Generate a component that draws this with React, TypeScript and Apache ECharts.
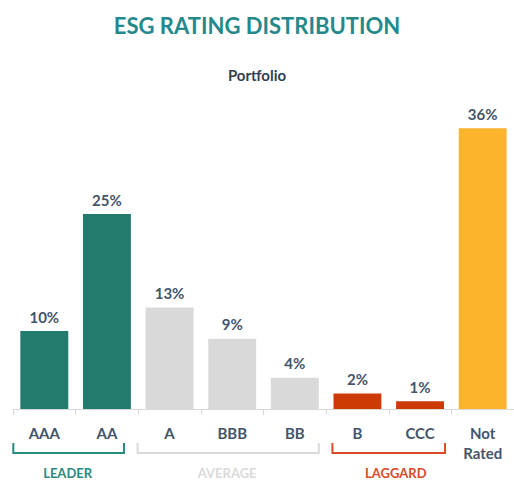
import React, { useEffect, useRef } from "react";
import * as echarts from "echarts";

const categories = ["AAA", "AA", "A", "BBB", "BB", "B", "CCC", "Not\nRated"];
const values = [10, 25, 13, 9, 4, 2, 1, 36];
const barColors = ["#237B6E", "#237B6E", "#D9D9D9", "#D9D9D9", "#D9D9D9", "#CE3A04", "#CE3A04", "#FBB42C"];
const groups = [
  { name: "LEADER", from: 0, to: 1, color: "#2A8A80", padL: 31, padR: 17, labelDx: -1 },
  { name: "AVERAGE", from: 2, to: 4, color: "#DADADA", padL: 32, padR: 24, labelDx: -1 },
  { name: "LAGGARD", from: 5, to: 6, color: "#D94A26", padL: 25, padR: 25, labelDx: 7 },
];

const FONT = "Lato, 'Open Sans', sans-serif";
const LABEL_COLOR = "#44546A";

export default function App() {
  const ref = useRef<HTMLDivElement>(null);
  useEffect(() => {
    if (!ref.current) return;
    const chart = echarts.init(ref.current, null, { renderer: "svg" });
    const option: any = {
      animation: false,
      backgroundColor: "#ffffff",
      title: [
        {
          text: "ESG RATING DISTRIBUTION",
          left: "center",
          top: 9,
          textStyle: { color: "#25898B", fontSize: 22, fontWeight: "bold", fontFamily: FONT },
        },
        {
          text: "Portfolio",
          left: "center",
          top: 62,
          textStyle: { color: "#333F50", fontSize: 15, fontWeight: "bold", fontFamily: FONT },
        },
      ],
      grid: { left: 13, right: 0, top: 97, bottom: 73, containLabel: false },
      xAxis: {
        type: "category",
        data: categories,
        axisLine: { show: true, lineStyle: { color: "#D9D9D9", width: 1 } },
        axisTick: { show: true, length: 6, lineStyle: { color: "#D9D9D9" } },
        axisLabel: {
          color: LABEL_COLOR,
          fontSize: 15,
          fontWeight: "bold",
          fontFamily: FONT,
          margin: 14,
          lineHeight: 20,
          interval: 0,
        },
      },
      yAxis: { type: "value", min: 0, max: 40, show: false, splitLine: { show: false } },
      series: [
        {
          type: "bar",
          data: values.map((v, i) => ({ value: v, itemStyle: { color: barColors[i] } })),
          barCategoryGap: "23.5%",
          label: {
            show: true,
            position: "top",
            distance: 7,
            formatter: "{c}%",
            color: LABEL_COLOR,
            fontSize: 15,
            fontWeight: "bold",
            fontFamily: FONT,
          },
        },
      ],
    };
    chart.setOption(option);

    const yTop = 443;
    const yBot = 453;
    const graphics: any[] = [];
    groups.forEach((g) => {
      const x1 = chart.convertToPixel({ xAxisIndex: 0 }, g.from) as number;
      const x2 = chart.convertToPixel({ xAxisIndex: 0 }, g.to) as number;
      const left = x1 - g.padL;
      const right = x2 + g.padR;
      graphics.push({
        type: "polyline",
        shape: { points: [[left, yTop], [left, yBot], [right, yBot], [right, yTop]] },
        style: { stroke: g.color, lineWidth: 2, fill: null },
      });
      graphics.push({
        type: "text",
        x: (left + right) / 2 + g.labelDx,
        y: 473,
        style: {
          text: g.name,
          fill: g.color,
          fontSize: 13,
          fontWeight: "bold",
          fontFamily: FONT,
          align: "center",
          verticalAlign: "middle",
        },
      });
    });
    chart.setOption({ graphic: graphics });

    return () => chart.dispose();
  }, []);
  return (
    <div
      ref={ref}
      style={{ position: "fixed", left: 0, top: 0, width: 514, height: 482, background: "#fff" }}
    />
  );
}
